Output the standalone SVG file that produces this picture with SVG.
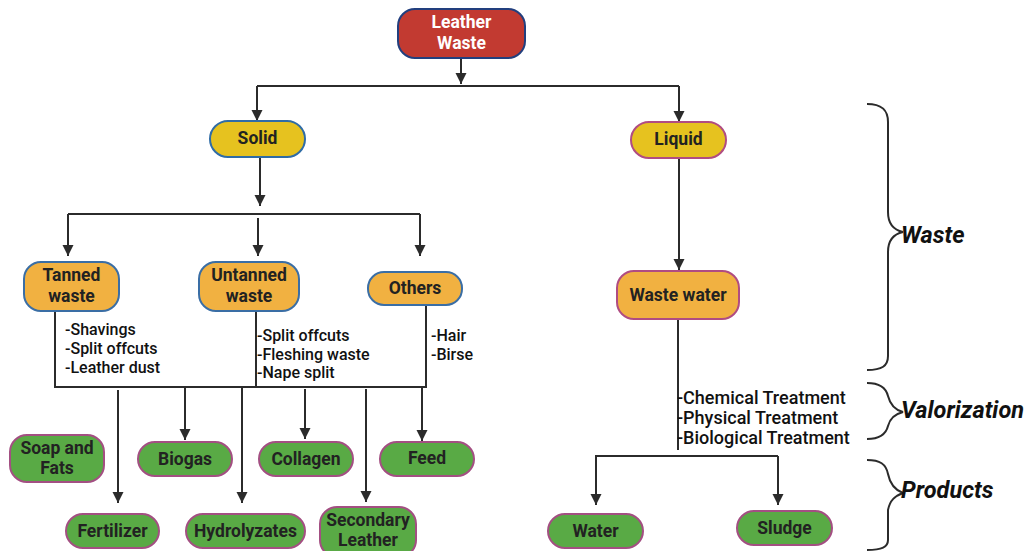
<svg xmlns="http://www.w3.org/2000/svg" width="1033" height="551" viewBox="0 0 1033 551">
<defs>
<marker id="ah" markerUnits="userSpaceOnUse" markerWidth="12" markerHeight="12" refX="11" refY="6" orient="auto"><path d="M0,0.5 L11,6 L0,11.5 z" fill="#2b2b2b"/></marker>
<style>
.ln{stroke:#2b2b2b;stroke-width:2;fill:none}
.ar{stroke:#2b2b2b;stroke-width:2;fill:none;marker-end:url(#ah)}
.t{font-family:Roboto,"Liberation Sans",sans-serif;font-weight:700;font-size:17.5px;fill:#222;text-anchor:middle;dominant-baseline:central}
.w{fill:#fff}
.l{font-family:Roboto,"Liberation Sans",sans-serif;font-weight:500;font-size:16px;fill:#111;dominant-baseline:central}
.tr{font-family:Roboto,"Liberation Sans",sans-serif;font-weight:500;font-size:18px;fill:#111;dominant-baseline:central}
.b{font-family:Roboto,"Liberation Sans",sans-serif;font-weight:700;font-style:italic;font-size:23.5px;fill:#111;dominant-baseline:central}
.red{fill:#c23a31;stroke:#223f7e;stroke-width:2}
.yb{fill:#e6c21f;stroke:#2f6ca6;stroke-width:2}
.yp{fill:#e6c21f;stroke:#b04c82;stroke-width:2}
.ob{fill:#f1b141;stroke:#3a6ea5;stroke-width:2}
.op{fill:#f1b141;stroke:#b04c82;stroke-width:2}
.g{fill:#59aa45;stroke:#a34f82;stroke-width:2}
</style>
</defs>
<rect width="1033" height="551" fill="#fff"/>

<g id="connectors">
<path class="ar" d="M461,58 V84"/>
<path class="ln" d="M257,86 H679"/>
<path class="ar" d="M257,86 V121"/>
<path class="ar" d="M679,86 V122"/>
<path class="ar" d="M260,157 V206"/>
<path class="ln" d="M68,214 H420"/>
<path class="ar" d="M68,214 V256"/>
<path class="ar" d="M258,218 V256"/>
<path class="ar" d="M420,214 V256"/>
<path class="ln" d="M55,311 V387 H426 V305"/>
<path class="ln" d="M256,311 V387"/>
<path class="ar" d="M118,390 V503"/>
<path class="ar" d="M185,387 V440"/>
<path class="ar" d="M242,387 V503"/>
<path class="ar" d="M305,389 V439"/>
<path class="ar" d="M366,389 V502"/>
<path class="ar" d="M422,387 V441"/>
<path class="ar" d="M679,158 V270"/>
<path class="ln" d="M678,319 V450"/>
<path class="ln" d="M595,456 H778"/>
<path class="ar" d="M596,456 V505"/>
<path class="ar" d="M778,456 V505"/>
</g>

<g id="leather-waste"><rect class="red" x="398" y="9" width="127" height="49" rx="17"/><text class="t w" x="461.5" y="22">Leather</text><text class="t w" x="461.5" y="43">Waste</text></g>
<g id="solid"><rect class="yb" x="210" y="121" width="95" height="36" rx="18"/><text class="t" x="257.5" y="138">Solid</text></g>
<g id="liquid"><rect class="yp" x="631" y="122" width="95" height="36" rx="18"/><text class="t" x="678.5" y="139">Liquid</text></g>
<g id="tanned"><rect class="ob" x="24" y="262" width="95" height="49" rx="17"/><text class="t" x="71.5" y="275">Tanned</text><text class="t" x="71.5" y="296">waste</text></g>
<g id="untanned"><rect class="ob" x="199" y="262" width="100" height="49" rx="17"/><text class="t" x="249" y="275">Untanned</text><text class="t" x="249" y="296">waste</text></g>
<g id="others"><rect class="ob" x="368" y="272" width="94" height="33" rx="16"/><text class="t" x="415" y="288">Others</text></g>
<g id="waste-water"><rect class="op" x="617" y="271" width="122" height="48" rx="17"/><text class="t" x="678" y="295">Waste water</text></g>

<g id="lists">
<text class="l" x="65" y="329">-Shavings</text>
<text class="l" x="65" y="348">-Split offcuts</text>
<text class="l" x="65" y="367">-Leather dust</text>
<text class="l" x="257" y="335">-Split offcuts</text>
<text class="l" x="257" y="354">-Fleshing waste</text>
<text class="l" x="257" y="372">-Nape split</text>
<text class="l" x="431" y="335">-Hair</text>
<text class="l" x="431" y="354">-Birse</text>
<text class="tr" x="677" y="397">-Chemical Treatment</text>
<text class="tr" x="677" y="417">-Physical Treatment</text>
<text class="tr" x="677" y="437">-Biological Treatment</text>
</g>

<g id="soap"><rect class="g" x="10" y="435" width="94" height="47" rx="17"/><text class="t" x="57" y="448">Soap and</text><text class="t" x="57" y="468">Fats</text></g>
<g id="biogas"><rect class="g" x="138" y="442" width="94" height="34" rx="17"/><text class="t" x="185" y="459">Biogas</text></g>
<g id="collagen"><rect class="g" x="259" y="442" width="94" height="34" rx="17"/><text class="t" x="306" y="459">Collagen</text></g>
<g id="feed"><rect class="g" x="380" y="442" width="94" height="34" rx="17"/><text class="t" x="427" y="458">Feed</text></g>
<g id="fertilizer"><rect class="g" x="66" y="514" width="93" height="34" rx="17"/><text class="t" x="112.5" y="531">Fertilizer</text></g>
<g id="hydrolyzates"><rect class="g" x="186" y="514" width="119" height="34" rx="17"/><text class="t" x="245.5" y="531">Hydrolyzates</text></g>
<g id="secondary-leather"><rect class="g" x="320" y="507" width="96" height="50" rx="17"/><text class="t" x="368" y="520">Secondary</text><text class="t" x="368" y="540">Leather</text></g>
<g id="water"><rect class="g" x="548" y="514" width="95" height="34" rx="17"/><text class="t" x="595.5" y="531">Water</text></g>
<g id="sludge"><rect class="g" x="737" y="511" width="95" height="34" rx="17"/><text class="t" x="784.5" y="528">Sludge</text></g>

<g id="braces">
<path class="ln" d="M867,104 C882,104 888,110 888,122 L888,212 C888,224 894,230 903,232 C894,234 888,240 888,252 L888,356 C888,366 882,370 867,370"/>
<path class="ln" d="M867,383 C880,383 886,388 888,396 C890,404 895,410 903,412 C895,414 890,418 888,426 C886,434 880,439 867,439"/>
<path class="ln" d="M867,460 C880,460 886,464 888,474 C890,484 895,490 903,493 C895,496 890,500 888,510 L888,540 C888,547 882,550 867,550"/>
<text class="b" x="901" y="235">Waste</text>
<text class="b" x="901" y="410">Valorization</text>
<text class="b" x="901" y="490">Products</text>
</g>
</svg>
